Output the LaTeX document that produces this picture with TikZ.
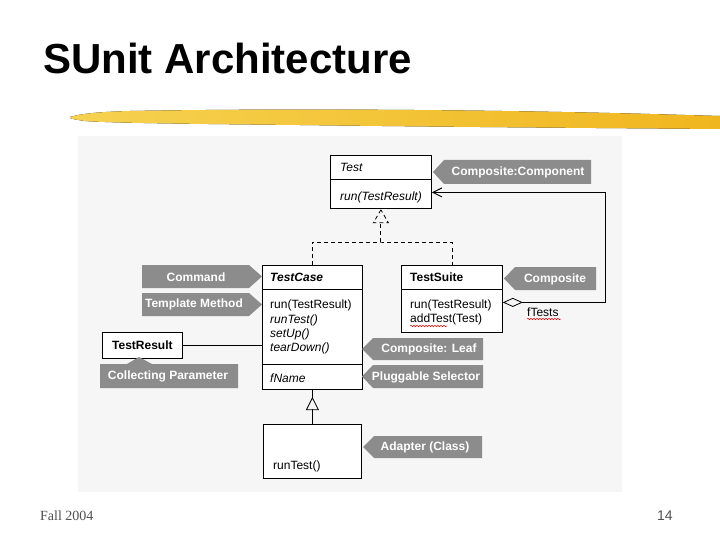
\documentclass[tikz,border=0pt]{standalone}
\usepackage{fontspec}
\setmainfont{Liberation Sans}
\newfontfamily\serifft{Liberation Serif}
\usetikzlibrary{arrows.meta,decorations.pathmorphing}
\definecolor{labgray}{RGB}{140,140,140}
\definecolor{panel}{RGB}{246,246,246}
\definecolor{foot}{RGB}{80,80,80}
\definecolor{brushA}{RGB}{246,210,80}
\definecolor{brushB}{RGB}{240,182,30}
\begin{document}
\begin{tikzpicture}[x=1pt,y=-1pt,
  cls/.style={draw, fill=white, line width=0.8pt, inner sep=0pt, anchor=north west},
  ctext/.style={anchor=west, inner sep=0pt, font=\fontsize{12}{12}\selectfont},
  labfill/.style={fill=labgray},
  labtxt/.style={text=white, inner sep=0pt, font=\fontsize{12}{12}\selectfont\bfseries},
  dashlin/.style={line width=0.8pt, dash pattern=on 4pt off 3pt},
  conn/.style={line width=0.8pt},
  squig/.style={red, line width=0.5pt, decorate, decoration={snake, amplitude=0.7pt, segment length=3pt}}]
\useasboundingbox (0,0) rectangle (720,540);
\fill[white] (0,0) rectangle (720,540);
% title
\node[anchor=base west, inner sep=0pt, font=\fontsize{42}{42}\selectfont\bfseries] (title) at (43,74) {SUnit Architecture};
% brush stroke
\fill[left color=brushA, right color=brushB]
  (70,117) .. controls (80,114) and (95,112) .. (130,111)
  .. controls (300,108) and (500,110) .. (650,114)
  -- (720,116) -- (720,129)
  .. controls (600,128) and (450,127) .. (300,125)
  .. controls (200,124) and (110,123) .. (85,121)
  .. controls (78,120) and (72,119) .. (70,118) -- cycle;
% panel
\fill[panel] (78,136) rectangle (622,492);
% footer
\node[anchor=base west, inner sep=0pt, text=foot, font=\serifft\fontsize{14}{14}\selectfont] (fall) at (40,520) {Fall 2004};
\node[anchor=base west, inner sep=0pt, text=foot, font=\fontsize{14}{14}\selectfont] (pg) at (657,520) {14};

% class boxes
\node[cls, minimum width=101pt, minimum height=53pt] (test) at (330,155) {};
\node[cls, minimum width=100pt, minimum height=124pt] (testcase) at (262,265) {};
\node[cls, minimum width=101pt, minimum height=67pt] (testsuite) at (401,265) {};
\node[cls, minimum width=80pt, minimum height=26pt, font=\fontsize{12}{12}\selectfont\bfseries] (testresult) at (102,332) {TestResult};
\node[cls, minimum width=98pt, minimum height=54pt] (sub) at (263,424) {};

% dividers
\draw[conn] ([yshift=-24pt]test.north west) -- ([yshift=-24pt]test.north east);
\draw[conn] ([yshift=-24pt]testcase.north west) -- ([yshift=-24pt]testcase.north east);
\draw[conn] ([yshift=-99pt]testcase.north west) -- ([yshift=-99pt]testcase.north east);
\draw[conn] ([yshift=-24pt]testsuite.north west) -- ([yshift=-24pt]testsuite.north east);

% class texts
\node[ctext, font=\fontsize{12}{12}\selectfont\itshape] (t1) at (340,167) {Test};
\node[ctext, font=\fontsize{12}{12}\selectfont\itshape] (t2) at (340,197) {run(TestResult)};

\node[ctext, font=\fontsize{12}{12}\selectfont\bfseries\itshape] (c1) at (270,277) {TestCase};
\node[ctext] (c2) at (270,305) {run(TestResult)};
\node[ctext, font=\fontsize{12}{12}\selectfont\itshape] (c3) at (270,320) {runTest()};
\node[ctext, font=\fontsize{12}{12}\selectfont\itshape] (c4) at (270,334) {setUp()};
\node[ctext, font=\fontsize{12}{12}\selectfont\itshape] (c5) at (270,348) {tearDown()};
\node[ctext, font=\fontsize{12}{12}\selectfont\itshape] (c6) at (270,378) {fName};

\node[ctext, font=\fontsize{12}{12}\selectfont\bfseries] (s1) at (410,277) {TestSuite};
\node[ctext] (s2) at (410,305) {run(TestResult)};
\node[ctext] (s3) at (410,319) {addTest(Test)};
\draw[squig] (410,326) -- (447,326);

\node[ctext] (u1) at (273,466) {runTest()};

% connectors
\coordinate (jn) at (380.5,242);
\draw[dashlin] (testcase.north) |- (jn) -| (testsuite.north);
\draw[dashlin] (jn) -- (380.5,222);
\draw[dashlin] (test.south) ++(0,1) -- ++(-7.5,13) -- ++(15,0) -- cycle;

\draw[conn] (sub.north) -- ++(0,-15);
\draw[conn] (testcase.south) ++(0,8) -- ++(-6,12) -- ++(12,0) -- cycle;
\draw[conn] (testcase.south) -- ++(0,8);

\draw[conn, {Diamond[open,length=20pt,width=9pt,line width=0.8pt]}-{Straight Barb[length=9pt,width=9pt,line width=1pt]}]
  ([yshift=-3.5pt]testsuite.east) -- ++(103,0) |- ([yshift=-10.5pt]test.east);
\node[ctext] (ft) at (527,312) {fTests};
\draw[squig] (527,319) -- (561,319);

\draw[conn] (testresult.east) -- (testcase.west |- testresult.east);

% pattern labels
\fill[labfill] (433,172) -- (444,160) -- (591,160) -- (591,184) -- (444,184) -- cycle;
\node[labtxt] (lcc) at (518,172.5) {Composite:Component};
\fill[labfill] (504,278.5) -- (515,267) -- (596,267) -- (596,290) -- (515,290) -- cycle;
\node[labtxt] (lc) at (555,279) {Composite};
\fill[labfill] (362,349) -- (373,338) -- (483,338) -- (483,360) -- (373,360) -- cycle;
\node[labtxt] (ll) at (429,349.5) {Composite: Leaf};
\fill[labfill] (362,376.5) -- (373,365) -- (483,365) -- (483,388) -- (373,388) -- cycle;
\node[labtxt] (lp) at (426,377) {Pluggable Selector};
\fill[labfill] (363,447) -- (374,436) -- (482,436) -- (482,458) -- (374,458) -- cycle;
\node[labtxt] (la) at (425,447.5) {Adapter (Class)};
\fill[labfill] (262,276.5) -- (249,265) -- (142,265) -- (142,288) -- (249,288) -- cycle;
\node[labtxt] (lcm) at (196,277) {Command};
\fill[labfill] (262,304.5) -- (249,293) -- (142,293) -- (142,316) -- (249,316) -- cycle;
\node[labtxt] (ltm) at (194,304.5) {Template Method};
\fill[labfill] (139,357) -- (152,364) -- (238,364) -- (238,388) -- (100,388) -- (100,364) -- (127,364) -- cycle;
\node[labtxt] (lcp) at (168,376.5) {Collecting Parameter};
\end{tikzpicture}
\end{document}
